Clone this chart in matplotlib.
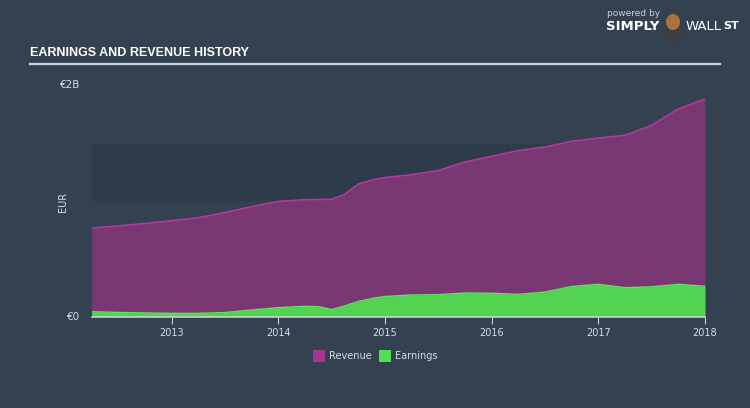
import matplotlib
matplotlib.use("Agg")
import matplotlib.pyplot as plt
from matplotlib.patches import Rectangle, Ellipse

# values in billions of EUR, dates as decimal years
rev_years = [2012.25, 2012.5, 2012.75, 2013.0, 2013.25, 2013.5, 2013.75, 2014.0,
             2014.25, 2014.5, 2014.62, 2014.75, 2014.9, 2015.0, 2015.25, 2015.5,
             2015.75, 2016.0, 2016.25, 2016.5, 2016.75, 2017.0, 2017.25, 2017.5,
             2017.75, 2018.0]
revenue = [0.76, 0.78, 0.80, 0.824, 0.85, 0.895, 0.945, 0.99,
           1.005, 1.008, 1.05, 1.14, 1.18, 1.195, 1.22, 1.255,
           1.33, 1.378, 1.427, 1.458, 1.507, 1.535, 1.558, 1.645,
           1.785, 1.871]

earn_years = [2012.25, 2012.5, 2012.75, 2013.0, 2013.25, 2013.5, 2013.75, 2014.0,
              2014.25, 2014.38, 2014.5, 2014.62, 2014.75, 2014.9, 2015.0, 2015.25,
              2015.5, 2015.75, 2016.0, 2016.25, 2016.5, 2016.75, 2017.0, 2017.25,
              2017.5, 2017.75, 2018.0]
earnings = [0.041, 0.035, 0.030, 0.027, 0.027, 0.034, 0.056, 0.076,
            0.088, 0.084, 0.060, 0.090, 0.130, 0.158, 0.172, 0.185,
            0.188, 0.202, 0.200, 0.190, 0.210, 0.258, 0.277, 0.248,
            0.255, 0.277, 0.260]

year_ticks = [2013, 2014, 2015, 2016, 2017, 2018]
band = (0.99, 1.485)  # darker highlight band behind the areas

BG = '#334151'
BAND = '#2d3b4a'
REV_FILL = '#793872'
REV_LINE = '#b13a9e'
REV_SWATCH = '#a8358f'
EARN_FILL = '#52d452'
EARN_LINE = '#5fe65f'
TXT = '#d8dde3'

fig = plt.figure(figsize=(7.5, 4.08), dpi=100, facecolor=BG)
ax = fig.add_axes([91.7 / 750, 1 - 316.5 / 408, (705 - 91.7) / 750, (316.5 - 84) / 408])
ax.set_facecolor(BG)

ax.axhspan(band[0], band[1], color=BAND, zorder=0, lw=0)
ax.fill_between(rev_years, 0, revenue, color=REV_FILL, lw=0, zorder=2)
ax.plot(rev_years, revenue, color=REV_LINE, lw=1.2, zorder=3)
ax.fill_between(earn_years, 0, earnings, color=EARN_FILL, lw=0, zorder=4)
ax.plot(earn_years, earnings, color=EARN_LINE, lw=1.0, zorder=5)

ax.set_xlim(rev_years[0], 2018.0)
ax.set_ylim(0, 2)
for s in ['top', 'right', 'left']:
    ax.spines[s].set_visible(False)
ax.spines['bottom'].set_color('#c8ced6')
ax.spines['bottom'].set_linewidth(1.2)
ax.spines['bottom'].set_zorder(6)

ax.set_xticks(year_ticks)
ax.set_xticklabels([str(y) for y in year_ticks])
ax.tick_params(axis='x', colors='#c8ced6', labelcolor=TXT, length=5, width=0.8,
               labelsize=7, pad=3)
ax.set_yticks([0, 2])
ax.set_yticklabels(['€0', '€2B'])
ax.tick_params(axis='y', length=0, labelcolor=TXT, labelsize=7.5, pad=8)
ax.set_ylabel('EUR', color=TXT, fontsize=7, labelpad=10)
ax.yaxis.set_label_coords(-0.038, 0.494)

# title and rule
fig.text(30 / 750, 1 - 53 / 408, 'EARNINGS AND REVENUE HISTORY', color='white',
         fontsize=9, fontweight='bold', family='Liberation Sans',
         va='center', ha='left')
fig.add_artist(plt.Line2D([30 / 750, 720 / 750], [1 - 64 / 408] * 2,
                          color='#d0d6dd', lw=1.6))

# logo text
fig.text(607 / 750, 1 - 14 / 408, 'powered by', color='#c9ced6', fontsize=6.5,
         va='center', ha='left')
fig.text(606 / 750, 1 - 27 / 408, 'SIMPLY', color='white', fontsize=9.5,
         fontweight='bold', va='center', ha='left')
fig.add_artist(Ellipse((673 / 750, 1 - 30 / 408), 22 / 750, 24 / 408,
                       transform=fig.transFigure, color='#3b3f45', lw=0))
fig.add_artist(Ellipse((673 / 750, 1 - 22 / 408), 14 / 750, 16 / 408,
                       transform=fig.transFigure, color='#a8733c', lw=0))
fig.text(686 / 750, 1 - 27 / 408, 'WALL', color='white', fontsize=9.5,
         va='center', ha='left')
fig.text(723 / 750, 1 - 26 / 408, 'ST', color='white', fontsize=8,
         fontweight='bold', va='center', ha='left')

# legend
fig.add_artist(Rectangle((313 / 750, 1 - 362 / 408), 12 / 750, 12 / 408,
                         transform=fig.transFigure, color=REV_SWATCH, lw=0))
fig.text(329 / 750, 1 - 356 / 408, 'Revenue', color=TXT, fontsize=7,
         va='center', ha='left')
fig.add_artist(Rectangle((379 / 750, 1 - 362 / 408), 12 / 750, 12 / 408,
                         transform=fig.transFigure, color='#4fe04f', lw=0))
fig.text(395 / 750, 1 - 356 / 408, 'Earnings', color=TXT, fontsize=7,
         va='center', ha='left')

fig.savefig('out.png', dpi=100, facecolor=BG)
